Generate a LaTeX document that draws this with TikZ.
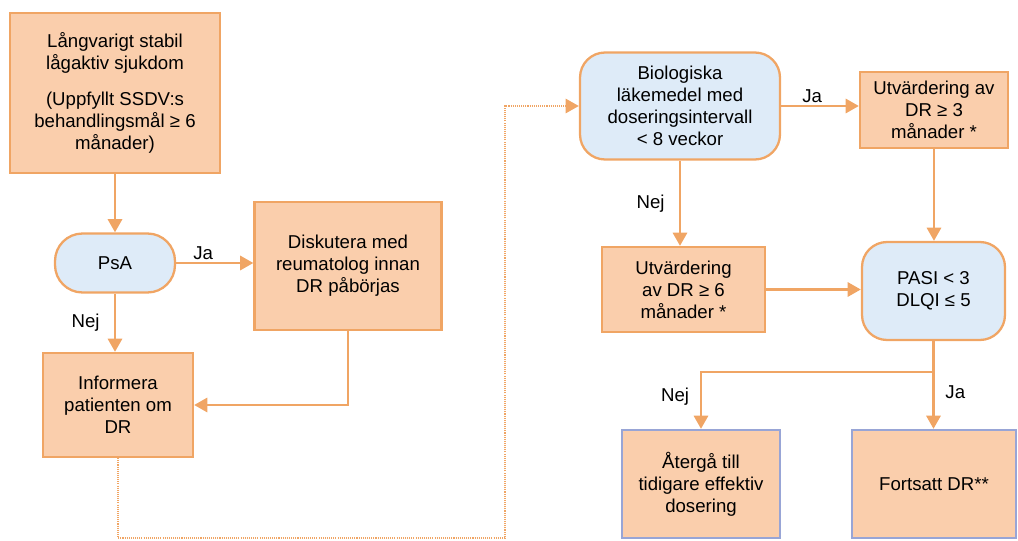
\documentclass[tikz,border=0pt]{standalone}
\usepackage{fontspec}
\setmainfont{Liberation Sans}
\usetikzlibrary{arrows.meta}
\definecolor{FillClr}{RGB}{250,206,172}
\definecolor{LineClr}{RGB}{240,165,100}
\definecolor{DecClr}{RGB}{222,235,248}
\definecolor{EndClr}{RGB}{152,165,214}

\begin{document}
\begin{tikzpicture}[x=0.02cm,y=-0.02cm,
  every node/.style={font=\fontsize{10.6}{12.5}\selectfont,align=center},
  box/.style={draw=LineClr,line width=1.3pt,fill=FillClr,inner sep=2pt},
  dec/.style={box,fill=DecClr,rounded corners=0.5cm},
  endbox/.style={box,draw=EndClr},
  conn/.style={draw=LineClr,line width=1.6pt},
  arr/.style={conn,-{Triangle[length=7.5pt,width=8pt]}},
  dotarr/.style={arr,line width=1.4pt,dash pattern=on 0.6pt off 0.6pt},
  lbl/.style={inner sep=1pt}]
\useasboundingbox (0,0) rectangle (1018,541);

\node[box,minimum width=4.2cm,minimum height=3.2cm] (stabil) at (115,93)
  {Långvarigt stabil\\lågaktiv sjukdom\\[8pt](Uppfyllt SSDV:s\\behandlingsmål ≥ 6\\månader)};
\node[dec,rounded corners=0.55cm,minimum width=2.4cm,minimum height=1.18cm] (psa) at (115,263) {PsA};
\node[box,minimum width=3.74cm,minimum height=2.56cm] (disk) at (348,266)
  {Diskutera med\\reumatolog innan\\DR påbörjas};
\node[box,minimum width=3.0cm,minimum height=2.08cm] (info) at (118,405)
  {Informera\\patienten om\\DR};
\node[dec,minimum width=4.0cm,minimum height=2.14cm] (bio) at (680,106)
  {Biologiska\\läkemedel med\\doseringsintervall\\< 8 veckor};
\node[box,minimum width=2.96cm,minimum height=1.52cm] (utv3) at (934,110)
  {Utvärdering av\\DR ≥ 3\\månader *};
\node[box,minimum width=3.26cm,minimum height=1.7cm] (utv6) at (683.5,289.5)
  {Utvärdering\\av DR ≥ 6\\månader *};
\node[dec,minimum width=2.86cm,minimum height=1.96cm] (pasi) at (933.5,291)
  {PASI < 3\\DLQI ≤ 5};
\node[endbox,minimum width=3.16cm,minimum height=2.16cm] (aterga) at (701,484)
  {Återgå till\\tidigare effektiv\\dosering};
\node[endbox,minimum width=3.28cm,minimum height=2.16cm] (fortsatt) at (934,484)
  {Fortsatt DR**};

\coordinate (turn) at (505,538);
\coordinate (split) at (933.5,372);

\draw[arr] (stabil.south) -- (psa.north);
\draw[arr] (psa.east) -- node[lbl,above,pos=0.35]{Ja} (psa.east -| disk.west);
\draw[arr] (psa.south) -- node[lbl,left=7pt]{Nej} (psa.south |- info.north);
\draw[arr] (disk.south) |- (info.east);
\draw[dotarr] (info.south) |- (turn) |- (bio.west);
\draw[arr] (bio.east) -- node[lbl,above,pos=0.4]{Ja} (bio.east -| utv3.west);
\draw[arr] (bio.south) -- node[lbl,left=7pt]{Nej} (bio.south |- utv6.north);
\draw[arr] (utv3.south) -- (utv3.south |- pasi.north);
\draw[arr] (utv6.east) -- (utv6.east -| pasi.west);
\draw[conn] (pasi.south) -- (split);
\draw[arr] (split) -- node[lbl,right=5pt,pos=0.35]{Ja} (split |- fortsatt.north);
\draw[arr] (split) -| node[lbl,left=5pt,pos=0.72]{Nej} (aterga.north);

\end{tikzpicture}
\end{document}
